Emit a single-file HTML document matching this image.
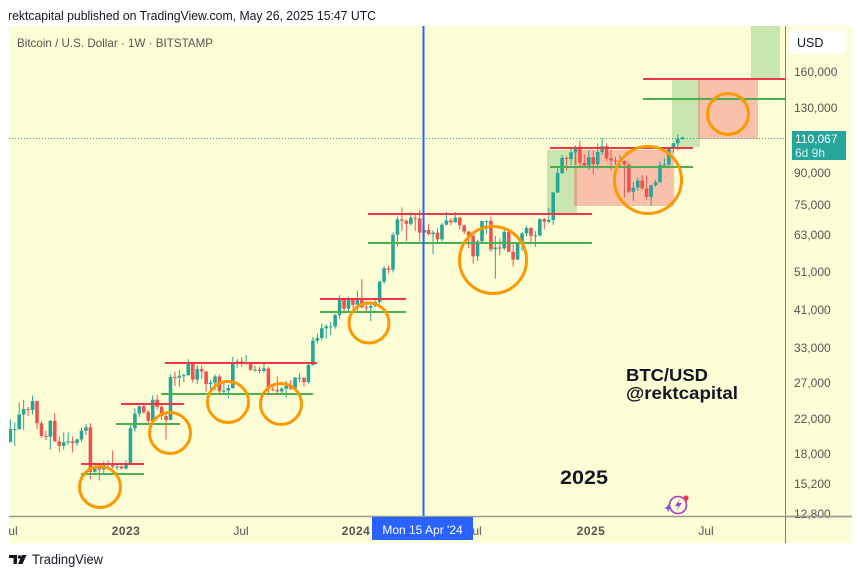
<!DOCTYPE html>
<html><head><meta charset="utf-8">
<style>
html,body{margin:0;padding:0;background:#fff;width:860px;height:577px;overflow:hidden}
svg{display:block}
text{font-family:"Liberation Sans",Arial,sans-serif}
</style></head><body>
<svg id="s" width="860" height="577" viewBox="0 0 860 577" xmlns="http://www.w3.org/2000/svg">
<defs><clipPath id="cp"><rect x="9" y="26" width="776" height="490"/></clipPath></defs>
<text x="8" y="20" font-size="13" fill="#131722" textLength="368" lengthAdjust="spacingAndGlyphs">rektcapital published on TradingView.com, May 26, 2025 15:47 UTC</text>
<rect x="9" y="26" width="843" height="517" fill="#FEFED6"/>
<text x="17" y="47" font-size="12" fill="#555" textLength="196" lengthAdjust="spacingAndGlyphs">Bitcoin / U.S. Dollar · 1W · BITSTAMP</text>

<g clip-path="url(#cp)">
<rect x="547" y="150" width="30" height="63" fill="rgba(76,175,80,0.3)"/>
<rect x="574" y="150" width="100" height="56" fill="rgba(242,54,69,0.3)"/>
<rect x="672" y="79" width="28" height="68" fill="rgba(76,175,80,0.3)"/>
<rect x="698" y="79" width="60" height="60" fill="rgba(242,54,69,0.3)"/>
<rect x="751" y="26" width="29" height="52" fill="rgba(76,175,80,0.3)"/>
<line x1="9" y1="138.5" x2="785" y2="138.5" stroke="#26A69A" stroke-width="1" stroke-dasharray="1 2"/>
<g id="candles"></g>
<g stroke-width="2">
<line x1="81" y1="464" x2="144" y2="464" stroke="#F23645"/>
<line x1="81" y1="474" x2="144" y2="474" stroke="#4CAF50"/>
<line x1="121" y1="404" x2="184" y2="404" stroke="#F23645"/>
<line x1="116" y1="424" x2="180" y2="424" stroke="#4CAF50"/>
<line x1="165" y1="363" x2="317" y2="363" stroke="#F23645"/>
<line x1="161" y1="394" x2="313" y2="394" stroke="#4CAF50"/>
<line x1="320" y1="299" x2="406" y2="299" stroke="#F23645"/>
<line x1="320" y1="312" x2="406" y2="312" stroke="#4CAF50"/>
<line x1="368" y1="214" x2="592" y2="214" stroke="#F23645"/>
<line x1="368" y1="243" x2="592" y2="243" stroke="#4CAF50"/>
<line x1="550" y1="148" x2="693" y2="148" stroke="#F23645"/>
<line x1="550" y1="167" x2="693" y2="167" stroke="#4CAF50"/>
<line x1="643" y1="79" x2="785" y2="79" stroke="#F23645"/>
<line x1="643" y1="99" x2="785" y2="99" stroke="#4CAF50"/>
</g>
<g fill="none" stroke="#FF9800" stroke-width="3">
<circle cx="100" cy="487" r="20.5"/>
<circle cx="170" cy="433" r="20.5"/>
<circle cx="228" cy="402" r="20.5"/>
<circle cx="281" cy="404" r="20.5"/>
<circle cx="369" cy="323" r="20"/>
<circle cx="493" cy="260" r="33.5"/>
<circle cx="648" cy="180" r="33.5"/>
<circle cx="728" cy="114" r="20.5"/>
</g>
<line x1="423.5" y1="26" x2="423.5" y2="516" stroke="#2962FF" stroke-width="2"/>
</g>

<text x="626" y="381" font-size="17.5" font-weight="bold" fill="#131722" textLength="82" lengthAdjust="spacingAndGlyphs">BTC/USD</text>
<text x="626" y="399" font-size="17.5" font-weight="bold" fill="#131722" textLength="112" lengthAdjust="spacingAndGlyphs">@rektcapital</text>
<text x="560" y="484" font-size="19" font-weight="bold" fill="#131722" textLength="48" lengthAdjust="spacingAndGlyphs">2025</text>

<!-- icon -->
<g>
<circle cx="678" cy="505" r="8.5" fill="none" stroke="#A23BD0" stroke-width="1.6"/>
<path d="M680 499 L675 506 L678.5 506 L676 511 L682 503 L678.5 503 Z" fill="#8E44E0"/>
<path d="M668 504 L669.3 507 L672 508 L669.3 509 L668 512 L666.7 509 L664 508 L666.7 507 Z" fill="#6A5CF0"/>
<circle cx="686" cy="498" r="2.6" fill="#F23645"/>
</g>

<!-- axes -->
<line x1="785.5" y1="26" x2="785.5" y2="543" stroke="#7a7a7a" stroke-width="1"/>
<line x1="9" y1="516.5" x2="852" y2="516.5" stroke="#9a9a9a" stroke-width="1.5"/>
<rect x="789" y="30" width="57" height="24" rx="4" fill="#fff"/>
<text x="797" y="47" font-size="12.5" fill="#131722">USD</text>
<g font-size="12" fill="#555">
<text x="794" y="76">160,000</text>
<text x="794" y="112">130,000</text>
<text x="794" y="177">90,000</text>
<text x="794" y="209">75,000</text>
<text x="794" y="239">63,000</text>
<text x="794" y="276">51,000</text>
<text x="794" y="314">41,000</text>
<text x="794" y="352">33,000</text>
<text x="794" y="387">27,000</text>
<text x="794" y="423">22,000</text>
<text x="794" y="458">18,000</text>
<text x="794" y="488">15,200</text>
<text x="794" y="518">12,800</text>
</g>
<line x1="786" y1="516.5" x2="852" y2="516.5" stroke="#9a9a9a" stroke-width="1.5"/>
<rect x="792" y="131" width="54" height="29" fill="#26A69A"/>
<text x="795" y="143" font-size="12" fill="#fff">110,067</text>
<text x="795" y="157" font-size="12" fill="#d8f0ed">6d 9h</text>

<g font-size="12" fill="#555" text-anchor="middle">
<text x="10" y="535">Jul</text>
<text x="126" y="535" font-weight="bold" letter-spacing="0.5">2023</text>
<text x="241" y="535">Jul</text>
<text x="356" y="535" font-weight="bold" letter-spacing="0.5">2024</text>
<text x="474" y="535">Jul</text>
<text x="591" y="535" font-weight="bold" letter-spacing="0.5">2025</text>
<text x="706" y="535">Jul</text>
</g>
<rect x="372" y="517" width="101" height="23" fill="#2962FF"/>
<text x="422.5" y="534" font-size="12" fill="#fff" text-anchor="middle">Mon 15 Apr '24</text>
<rect x="0" y="0" width="9" height="577" fill="#fff"/>

<!-- TradingView logo -->
<g fill="#131722">
<path d="M9 555 H17 V564 H13.5 V558 H9 Z"/>
<circle cx="19.5" cy="557" r="1.8"/>
<path d="M22 555 H26.5 L22.5 564 H18 Z"/>
</g>
<text x="32" y="564" font-size="13.5" fill="#131722" textLength="71" lengthAdjust="spacingAndGlyphs">TradingView</text>
</svg>
<script>
(function(){
var d=[
[19.3,22.0,19.3,20.8],[20.8,21.6,18.9,20.8],[20.8,24.2,20.7,22.6],[22.6,24.6,20.7,23.3],[23.3,23.6,22.4,23.2],[23.2,25.2,22.6,24.4],[24.4,24.4,20.8,21.5],[21.5,21.8,19.8,20.0],[20.0,20.6,19.5,19.9],[19.9,21.9,18.5,21.8],[21.8,22.8,19.3,19.4],[19.4,19.9,18.2,18.9],[18.9,20.4,18.5,19.3],[19.3,20.4,19.0,19.4],[19.4,19.9,18.2,19.2],[19.2,19.7,18.9,19.6],[19.6,21.0,19.3,20.6],[20.6,21.4,20.1,21.0],[21.0,21.5,15.6,16.3],[16.3,17.2,16.2,16.7],[16.7,16.8,15.5,16.5],[16.5,17.3,16.1,17.1],[17.1,17.4,16.7,17.1],[17.1,18.4,16.6,16.8],[16.8,17.0,16.5,16.8],[16.8,16.9,16.5,16.6],
[16.6,17.4,16.5,17.1],[17.1,21.3,17.1,20.9],[20.9,23.4,20.5,22.7],[22.7,23.8,22.3,23.7],[23.7,24.2,22.7,22.9],[22.9,23.2,21.4,21.8],[21.8,25.2,21.5,24.6],[24.6,25.3,23.2,23.6],[23.6,23.9,21.9,22.4],[22.4,22.6,19.6,21.9],[21.9,28.4,21.9,28.0],[28.0,28.9,26.6,27.9],[27.9,29.2,26.5,28.2],[28.2,28.6,27.2,28.3],[28.3,31.0,28.2,30.3],[30.3,30.5,27.1,27.6],[27.6,30.0,26.9,29.3],[29.3,29.9,27.7,28.9],[28.9,29.0,25.8,26.9],[26.9,27.6,26.1,27.1],[27.1,28.4,25.9,28.1],[28.1,28.4,25.4,25.8],[25.8,27.0,25.4,25.9],[25.9,26.8,24.8,26.3],[26.3,31.4,26.2,30.5],[30.5,31.0,29.5,30.6],[30.6,31.4,29.7,30.2],[30.2,31.8,30.1,30.3],[30.3,30.4,29.0,29.2],[29.2,29.9,28.9,29.2],[29.2,29.7,28.6,29.0],[29.0,30.2,28.7,29.4],[29.4,29.7,25.2,26.1],[26.1,26.8,25.8,26.0],[26.0,28.1,25.4,25.8],[25.8,26.4,25.4,26.2],[26.2,27.4,24.9,26.6],[26.6,27.5,26.0,26.2],[26.2,28.0,26.0,27.9],[27.9,28.6,27.2,27.9],[27.9,27.9,26.5,27.2],[27.2,30.4,26.9,30.0],[30.0,35.2,29.9,34.5],[34.5,35.9,33.9,35.0],[35.0,38.0,34.5,37.0],[37.0,37.9,34.8,37.4],[37.4,38.4,35.6,37.4],[37.4,40.2,36.9,39.9],[39.9,44.7,39.0,43.9],[43.9,43.9,40.2,41.4],[41.4,44.3,40.6,43.6],[43.6,43.8,41.5,42.3],
[42.3,45.9,40.7,43.9],[43.9,49.0,41.5,41.7],[41.7,43.2,40.3,41.6],[41.6,42.8,38.5,42.0],[42.0,43.9,41.8,43.0],[43.0,48.6,42.6,48.3],[48.3,52.8,47.7,52.1],[52.1,52.9,50.6,51.7],[51.7,64.0,50.9,63.1],[63.1,70.1,59.0,68.9],[68.9,73.8,64.6,68.4],[68.4,68.9,60.8,67.2],[67.2,71.8,66.5,69.6],[69.6,71.3,64.5,69.3],[69.3,72.8,60.7,63.9],[63.9,66.9,59.6,64.9],[64.9,67.2,62.8,63.4],[63.4,64.7,56.5,63.9],[63.9,65.5,60.2,61.5],[61.5,67.7,60.8,66.9],[66.9,71.9,66.6,68.5],[68.5,69.5,66.6,67.8],[67.8,71.9,67.6,69.6],[69.6,70.0,65.0,66.6],[66.6,66.9,63.4,64.3],[64.3,64.5,58.4,62.7],[62.7,63.8,53.5,55.8],[55.8,61.3,54.3,60.8],[60.8,68.4,60.6,68.2],[68.2,68.5,63.5,68.3],[68.3,70.0,57.3,58.1],[58.1,62.7,49.1,58.7],[58.7,61.8,56.1,58.4],[58.4,65.0,57.8,64.2],[64.2,64.9,57.2,57.3],[57.3,59.8,52.6,54.8],[54.8,60.6,54.6,60.0],[60.0,64.1,57.5,63.6],[63.6,66.5,62.7,65.6],[65.6,66.0,59.8,62.8],[62.8,64.5,58.9,62.9],[62.9,69.4,62.5,69.0],[69.0,69.5,65.1,68.0],[68.0,73.6,67.5,68.7],[68.7,80.5,66.8,80.4],[80.4,93.5,80.2,89.8],[89.8,99.6,89.4,97.9],[97.9,98.8,90.9,97.3],[97.3,104.0,94.0,101.1],[101.1,105.0,94.2,104.4],[104.4,108.3,92.2,95.2],[95.2,99.9,92.5,93.7],
[93.7,102.7,91.4,98.3],[98.3,102.5,89.3,94.5],[94.5,106.4,92.0,101.3],[101.3,109.6,99.5,104.7],[104.7,106.5,96.2,97.7],[97.7,102.5,91.2,96.5],[96.5,98.6,94.1,96.1],[96.1,99.5,93.3,96.2],[96.2,96.5,78.2,94.3],[94.3,95.0,80.0,80.7],[80.7,85.3,76.6,82.6],[82.6,87.5,81.2,86.1],[86.1,88.8,81.6,82.3],[82.3,88.5,77.1,78.4],[78.4,84.0,74.5,83.8],[83.8,86.4,83.1,85.2],[85.2,95.8,85.1,94.0],[94.0,97.9,92.8,94.3],[94.3,104.3,93.4,104.1],[104.1,106.5,100.7,106.5],[106.5,111.9,102.2,109.0],[109.0,110.4,108.8,110.07]
];
var NS="http://www.w3.org/2000/svg";
var g=document.getElementById("candles");
function Y(p){return 72+(11.983-Math.log(p*1000))*175;}
for(var j=0;j<d.length;j++){
 var k=d[j],i=j-26,x=126+i*4.45;
 var up=k[3]>=k[0],col=up?"#26A69A":"#EF5350";
 var w=document.createElementNS(NS,"rect");
 var yh=Y(k[1]),yl=Y(k[2]);
 w.setAttribute("x",(x-0.5).toFixed(2));w.setAttribute("y",yh.toFixed(2));
 w.setAttribute("width","1");w.setAttribute("height",Math.max(1,yl-yh).toFixed(2));
 w.setAttribute("fill",col);g.appendChild(w);
 var yt=Y(Math.max(k[0],k[3])),yb=Y(Math.min(k[0],k[3]));
 var b=document.createElementNS(NS,"rect");
 b.setAttribute("x",(x-1.8).toFixed(2));b.setAttribute("y",yt.toFixed(2));
 b.setAttribute("width","3.6");b.setAttribute("height",Math.max(1,yb-yt).toFixed(2));
 b.setAttribute("fill",col);g.appendChild(b);
}
})();
</script>
</body></html>
